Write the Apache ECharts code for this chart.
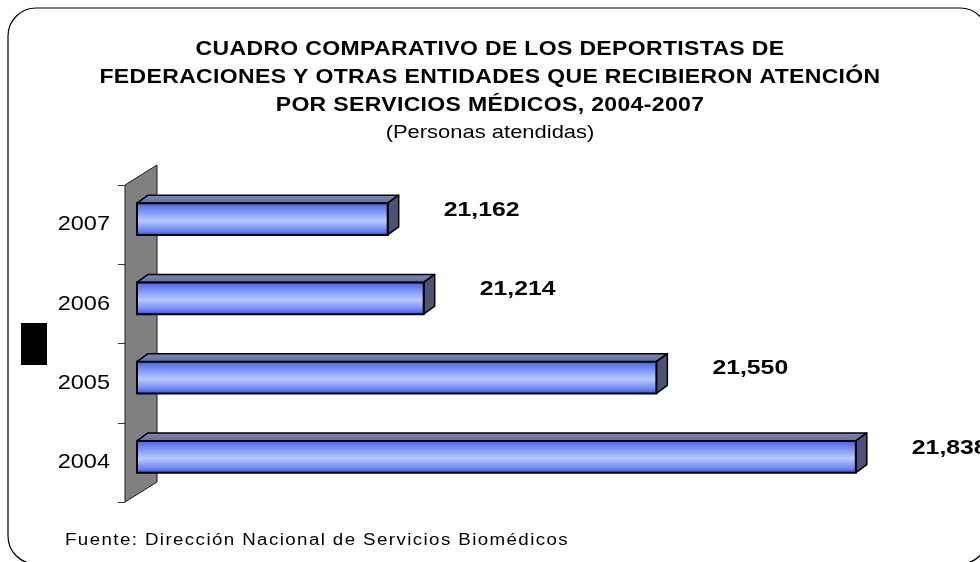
<!DOCTYPE html>
<html>
<head>
<meta charset="utf-8">
<script src="https://cdn.jsdelivr.net/npm/echarts@6/dist/echarts.min.js"></script>
<style>
html,body{margin:0;padding:0;background:#ffffff;}
#chart{width:980px;height:562px;}
</style>
</head>
<body>
<div id="chart"></div>
<script>
// ---- data ----
const titleLines = [
  'CUADRO COMPARATIVO DE LOS DEPORTISTAS DE',
  'FEDERACIONES Y OTRAS ENTIDADES QUE RECIBIERON ATENCIÓN',
  'POR SERVICIOS MÉDICOS, 2004-2007'
];
const subtitle = '(Personas atendidas)';
const sourceNote = 'Fuente: Dirección Nacional de Servicios Biomédicos';
const years = ['2004', '2005', '2006', '2007'];
const attended = [21838, 21550, 21214, 21162];
const axisMin = 20800;
const axisMax = 22000;

// The reference text is horizontally stretched; emulate by scaling glyphs around their anchor.
const textStretch = {
  'b20': { s: 1.15, ls: '0.3px' },  // title
  'b21': { s: 1.18, ls: '0px' },    // value labels
  'n21': { s: 1.12, ls: '0px' },    // axis labels
  'n18': { s: 1.22, ls: '0px' },    // subtitle
  'n16': { s: 1.17, ls: '1.2px' }   // source
};
(function () {
  const proto = CanvasRenderingContext2D.prototype;
  const orig = proto.fillText;
  proto.fillText = function (t, x, y, w) {
    const f = this.font || '';
    const m = /(\d+)px/.exec(f);
    const key = (/bold|700/.test(f) ? 'b' : 'n') + (m ? m[1] : '');
    const cfg = textStretch[key];
    if (!cfg) {
      if (w === undefined) return orig.call(this, t, x, y);
      return orig.call(this, t, x, y, w);
    }
    this.save();
    this.translate(x, y);
    this.scale(cfg.s, 1);
    this.letterSpacing = cfg.ls;
    orig.call(this, t, 0, 0);
    this.restore();
  };
})();

const FONT = '"Liberation Sans", Arial, Helvetica, sans-serif';
const chart = echarts.init(document.getElementById('chart'), null, { renderer: 'canvas' });

const barData = attended.map((v, i) => [v, i]);

function renderWall(params, api) {
  const cs = params.coordSys;
  const fx = cs.x - 12, bx = cs.x + 20, top = cs.y, bot = cs.y + cs.height, dy = -20;
  return {
    type: 'polygon',
    shape: { points: [[fx, top], [bx, top + dy], [bx, bot + dy], [fx, bot]] },
    style: { fill: '#808080', stroke: '#1a1a1a', lineWidth: 1 },
    silent: true
  };
}

function renderBar(params, api) {
  const v = api.value(0);
  const ci = api.value(1);
  const p0 = api.coord([axisMin, ci]);
  const p1 = api.coord([v, ci]);
  const band = api.size([0, 1])[1];
  const h = band * 0.40;
  const cy = p0[1] - band * 0.07;
  const y0 = cy - h / 2, y1 = cy + h / 2;
  const x0 = p0[0], x1 = p1[0];
  const dx = 11, dy = -8;
  return {
    type: 'group',
    children: [
      {
        type: 'polygon',
        shape: { points: [[x0, y0], [x1, y0], [x1 + dx, y0 + dy], [x0 + dx, y0 + dy]] },
        style: {
          fill: new echarts.graphic.LinearGradient(0, 0, 0, 1, [
            { offset: 0, color: '#7d89b8' },
            { offset: 1, color: '#5f6c9e' }
          ]),
          stroke: '#000', lineWidth: 1.5, lineJoin: 'round'
        }
      },
      {
        type: 'polygon',
        shape: { points: [[x1, y0], [x1 + dx, y0 + dy], [x1 + dx, y1 + dy], [x1, y1]] },
        style: { fill: '#4b5272', stroke: '#000', lineWidth: 1.5, lineJoin: 'round' }
      },
      {
        type: 'rect',
        shape: { x: x0, y: y0, width: x1 - x0, height: y1 - y0 },
        style: {
          fill: new echarts.graphic.LinearGradient(0, 0, 0, 1, [
            { offset: 0, color: '#3f5ae6' },
            { offset: 0.2, color: '#6e88f4' },
            { offset: 0.55, color: '#b9c9ff' },
            { offset: 0.85, color: '#6a84f2' },
            { offset: 1, color: '#2c44d6' }
          ]),
          stroke: '#000', lineWidth: 2
        }
      },
      {
        type: 'text',
        style: {
          text: v.toLocaleString('en-US'),
          x: x1 + 56, y: cy - 9,
          align: 'left', verticalAlign: 'middle',
          fontSize: 21, fontWeight: 'bold', fontFamily: FONT, fill: '#000'
        }
      }
    ]
  };
}

chart.setOption({
  backgroundColor: '#ffffff',
  animation: false,
  title: [
    {
      text: titleLines.join('\n'),
      left: 'center', top: 30,
      textStyle: { fontSize: 20, fontWeight: 'bold', fontFamily: FONT, color: '#000', lineHeight: 28 }
    },
    {
      text: subtitle,
      left: 'center', top: 118,
      textStyle: { fontSize: 18, fontWeight: 'normal', fontFamily: FONT, color: '#000', lineHeight: 20 }
    },
    {
      text: sourceNote,
      left: 60, top: 527,
      textStyle: { fontSize: 16, fontWeight: 'normal', fontFamily: FONT, color: '#000', lineHeight: 18 }
    }
  ],
  grid: { left: 137, right: 12, top: 185, bottom: 60 },
  xAxis: { type: 'value', min: axisMin, max: axisMax, show: false },
  yAxis: {
    type: 'category',
    data: years,
    offset: 12,
    axisLine: { show: false },
    axisTick: { show: true, length: 7, lineStyle: { color: '#333', width: 1 } },
    axisLabel: { fontSize: 21, fontFamily: FONT, color: '#000', margin: 15 },
    splitLine: { show: false }
  },
  graphic: [
    {
      type: 'rect', z: 0,
      shape: { x: 8, y: 8, width: 980, height: 556, r: 28 },
      style: { fill: null, stroke: '#000', lineWidth: 1.2 }
    },
    {
      type: 'rect', z: 5,
      shape: { x: 21, y: 323, width: 26, height: 42 },
      style: { fill: '#000' }
    }
  ],
  series: [
    {
      type: 'custom', name: 'wall', z: 1,
      renderItem: renderWall,
      data: [[axisMin, 0]],
      encode: { x: 0, y: 1 },
      silent: true
    },
    {
      type: 'custom', name: 'Personas atendidas', z: 2,
      renderItem: renderBar,
      data: barData,
      encode: { x: 0, y: 1 },
      clip: false
    }
  ]
});
</script>
</body>
</html>
